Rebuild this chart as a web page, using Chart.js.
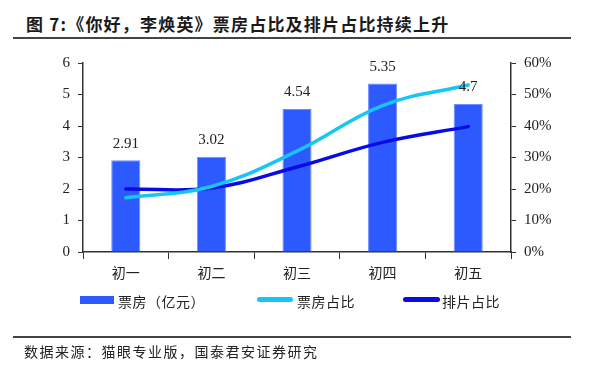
<!DOCTYPE html>
<html>
<head>
<meta charset="utf-8">
<script src="https://cdn.jsdelivr.net/npm/chart.js@4"></script>
<style>
  body { margin: 0; background: #fff; }
  #wrap { position: relative; width: 600px; height: 377px; overflow: hidden; font-family: "Noto Sans CJK SC", sans-serif; color: #222; }
  #chart { position: absolute; left: 0; top: 0; }
  .title { position: absolute; left: 26px; top: 11px; font-size: 17px; letter-spacing: 1.2px; font-weight: bold; color: #1a1a1a; white-space: nowrap; }
  .rule { position: absolute; left: 13px; width: 558px; height: 1.5px; background: #444; }
  .legend { position: absolute; top: 291px; font-size: 14px; letter-spacing: 0.5px; white-space: nowrap; }
  .sw { position: absolute; }
  .source { position: absolute; left: 24px; top: 341px; font-size: 14px; letter-spacing: 1.5px; white-space: nowrap; }
</style>
</head>
<body>
<div id="wrap">
  <div class="title">图 7:《你好，李焕英》票房占比及排片占比持续上升</div>
  <div class="rule" style="top:37px"></div>
  <canvas id="chart" width="600" height="377"></canvas>
  <div class="sw" style="left:80px;top:296px;width:34px;height:8px;background:#2d5aff"></div>
  <div class="legend" style="left:118px">票房（亿元）</div>
  <div class="sw" style="left:257px;top:297px;width:36px;height:5px;border-radius:2.5px;background:#17c6f7"></div>
  <div class="legend" style="left:297px">票房占比</div>
  <div class="sw" style="left:403px;top:297px;width:37px;height:5px;border-radius:2.5px;background:#0a0ae6"></div>
  <div class="legend" style="left:442px">排片占比</div>
  <div class="rule" style="top:336px"></div>
  <div class="source">数据来源：猫眼专业版，国泰君安证券研究</div>
</div>
<script>
  const days = ['初一', '初二', '初三', '初四', '初五'];
  const boxOffice = [2.91, 3.02, 4.54, 5.35, 4.7];
  const boxShare = [17.2, 20.8, 32, 46.5, 53];
  const screenShare = [20, 20.3, 27, 34.8, 39.8];

  const serif = '"Liberation Serif", "Times New Roman", serif';

  // numbers above the bars
  const barLabels = {
    id: 'barLabels',
    afterDatasetsDraw(chart) {
      const ctx = chart.ctx;
      const meta = chart.getDatasetMeta(2);
      ctx.save();
      ctx.font = '15px ' + serif;
      ctx.fillStyle = '#222';
      ctx.textAlign = 'center';
      ctx.textBaseline = 'bottom';
      meta.data.forEach((bar, i) => {
        ctx.fillText(boxOffice[i], bar.x, bar.y - 9);
      });
      ctx.restore();
    }
  };

  new Chart(document.getElementById('chart'), {
    data: {
      labels: days,
      datasets: [
        {
          type: 'line',
          label: '票房占比',
          data: boxShare,
          yAxisID: 'y1',
          borderColor: '#17c6f7',
          borderWidth: 3.5,
          borderCapStyle: 'round',
          tension: 0.4,
          pointRadius: 0,
          order: 0
        },
        {
          type: 'line',
          label: '排片占比',
          data: screenShare,
          yAxisID: 'y1',
          borderColor: '#0a0ae6',
          borderWidth: 3.5,
          borderCapStyle: 'round',
          tension: 0.4,
          pointRadius: 0,
          order: 0
        },
        {
          type: 'bar',
          label: '票房（亿元）',
          data: boxOffice,
          yAxisID: 'y',
          backgroundColor: '#2d5aff',
          borderColor: '#6f8dff',
          borderWidth: 1,
          barPercentage: 0.34,
          categoryPercentage: 1,
          order: 1
        }
      ]
    },
    options: {
      responsive: false,
      animation: false,
      layout: { padding: { left: 30, right: 40, top: 63, bottom: 0 } },
      plugins: {
        legend: { display: false },
        tooltip: { enabled: false }
      },
      scales: {
        x: {
          offset: true,
          grid: { offset: true, drawOnChartArea: false, color: '#333', tickLength: 7 },
          border: { color: '#333', width: 1.5 },
          ticks: { color: '#222', padding: 5, font: { size: 14, family: '"Noto Sans CJK SC", sans-serif' } },
          afterFit(s) { s.height = 125; }
        },
        y: {
          position: 'left',
          min: 0,
          max: 6,
          grid: { drawOnChartArea: false, color: '#333', tickLength: 5 },
          border: { color: '#333', width: 1.5 },
          ticks: { stepSize: 1, color: '#222', padding: 8, font: { size: 15, family: serif } },
          afterFit(s) { s.width = 53; }
        },
        y1: {
          position: 'right',
          min: 0,
          max: 60,
          grid: { drawOnChartArea: false, color: '#333', tickLength: 5 },
          border: { color: '#333', width: 1.5 },
          ticks: { stepSize: 10, color: '#222', padding: 8, font: { size: 15, family: serif }, callback: v => v + '%' },
          afterFit(s) { s.width = 49; }
        }
      }
    },
    plugins: [barLabels]
  });
</script>
</body>
</html>
